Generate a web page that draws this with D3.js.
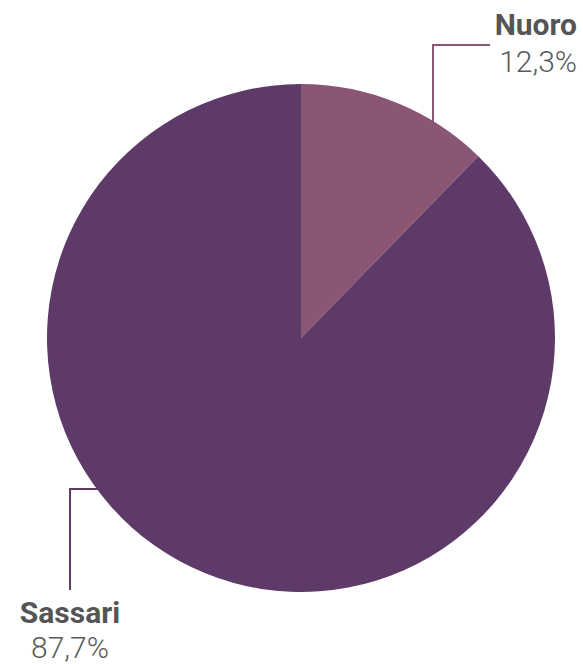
<!DOCTYPE html>
<html><head><meta charset="utf-8">
<script src="https://cdn.jsdelivr.net/npm/d3@7"></script>
<style>body{margin:0;background:#fff}svg{display:block}</style>
</head><body>
<script>
const categories = ["Nuoro", "Sassari"];
const values = [12.3, 87.7];
const labels = ["12,3%", "87,7%"];
const colors = ["#8a5673", "#5e3a68"];

const W = 583, H = 664, cx = 301, cy = 338, R = 254;
const svg = d3.select("body").append("svg").attr("width", W).attr("height", H);
const data = categories.map((c, i) => ({name: c, value: values[i], label: labels[i], color: colors[i]}));
const pie = d3.pie().sort(null).value(d => d.value);
const arc = d3.arc().innerRadius(0).outerRadius(R);
const arcs = pie(data);
const g = svg.append("g").attr("transform", `translate(${cx},${cy})`);
g.selectAll("path").data(arcs).join("path").attr("d", arc).attr("fill", d => d.data.color);

// leader lines & labels
const ann = [
  {pts: [[433,150],[433,45],[490,45]], tx: 577, anchor: "end", ty1: 35, ty2: 72},
  {pts: [[100,489],[70,489],[70,590]], tx: 70, anchor: "middle", ty1: 623, ty2: 658}
];
arcs.forEach((a, i) => {
  const o = ann[i];
  svg.append("path").attr("d", d3.line()(o.pts)).attr("fill", "none")
    .attr("stroke", a.data.color).attr("stroke-width", 2);
  svg.append("text").attr("x", o.tx).attr("y", o.ty1).attr("text-anchor", o.anchor)
    .attr("font-family", "Roboto").attr("font-weight", 700).attr("font-size", 30)
    .attr("fill", "#555").text(a.data.name);
  svg.append("text").attr("x", o.tx).attr("y", o.ty2).attr("text-anchor", o.anchor)
    .attr("font-family", "Roboto").attr("font-weight", 300).attr("font-size", 30)
    .attr("fill", "#5a5a5a").text(a.data.label);
});
</script>
</body></html>
